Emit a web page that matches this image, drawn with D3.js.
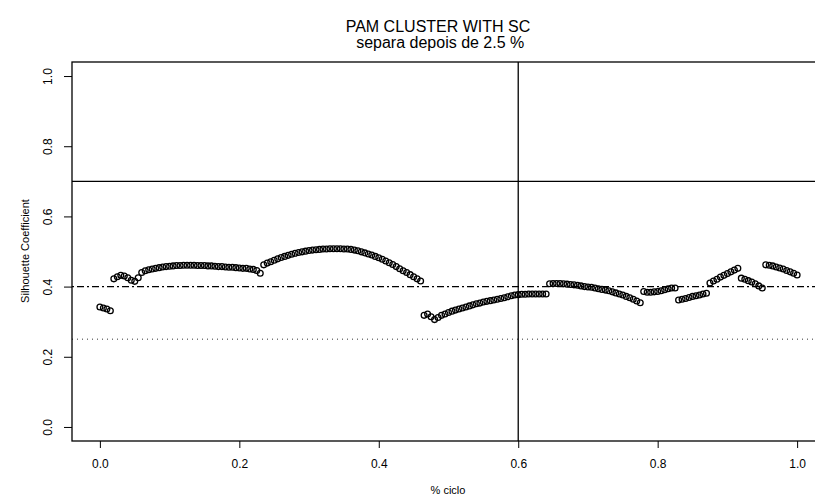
<!DOCTYPE html>
<html>
<head>
<meta charset="utf-8">
<script src="https://cdn.jsdelivr.net/npm/d3@7"></script>
<style>
  body { margin: 0; background: #fff; }
  text { font-family: "Liberation Sans", Arial, sans-serif; }
</style>
</head>
<body>
<svg id="plot"></svg>
<script>
const W = 815, H = 502;

// silhouette coefficient per step of "% ciclo" (step 0.005, from 0 to 1)
const cicloStep = 0.005;
const silhouette = [
  // 0.000 - 0.015
  0.342, 0.339, 0.336, 0.331,
  // 0.020 - 0.055
  0.422, 0.428, 0.432, 0.430, 0.425, 0.418, 0.415, 0.425,
  // 0.060 - 0.230
  0.440, 0.445, 0.448, 0.450, 0.452, 0.454, 0.456, 0.457, 0.458, 0.459,
  0.460, 0.460, 0.461, 0.461, 0.461, 0.461, 0.460, 0.460, 0.460, 0.459,
  0.459, 0.458, 0.457, 0.457, 0.456, 0.455, 0.455, 0.454, 0.453, 0.452,
  0.452, 0.450, 0.449, 0.446, 0.438,
  // 0.235 - 0.460
  0.462, 0.467, 0.471, 0.475, 0.479, 0.483, 0.486, 0.489, 0.492, 0.495,
  0.497, 0.499, 0.501, 0.503, 0.504, 0.505, 0.506, 0.507, 0.507, 0.508,
  0.508, 0.508, 0.508, 0.507, 0.507, 0.506, 0.504, 0.502, 0.499, 0.496,
  0.493, 0.490, 0.486, 0.482, 0.478, 0.473, 0.468, 0.463, 0.457, 0.451,
  0.445, 0.440, 0.434, 0.428, 0.422, 0.416,
  // 0.465 - 0.640
  0.318, 0.322, 0.314, 0.306, 0.312, 0.318, 0.322, 0.326, 0.330, 0.333,
  0.336, 0.339, 0.342, 0.345, 0.348, 0.351, 0.353, 0.356, 0.358, 0.360,
  0.362, 0.364, 0.366, 0.368, 0.371, 0.374, 0.376, 0.377, 0.378, 0.378,
  0.379, 0.379, 0.379, 0.379, 0.379, 0.379,
  // 0.645 - 0.775
  0.408, 0.409, 0.409, 0.409, 0.408, 0.407, 0.406, 0.405, 0.404, 0.402,
  0.400, 0.399, 0.398, 0.396, 0.394, 0.392, 0.390, 0.388, 0.385, 0.382,
  0.379, 0.376, 0.372, 0.368, 0.364, 0.359, 0.354,
  // 0.780 - 0.825
  0.386, 0.384, 0.384, 0.385, 0.386, 0.388, 0.391, 0.394, 0.396, 0.396,
  // 0.830 - 0.870
  0.362, 0.364, 0.366, 0.369, 0.372, 0.374, 0.376, 0.379, 0.381,
  // 0.875 - 0.915
  0.410, 0.416, 0.421, 0.427, 0.432, 0.437, 0.442, 0.447, 0.452,
  // 0.920 - 0.950
  0.424, 0.421, 0.417, 0.413, 0.408, 0.402, 0.396,
  // 0.955 - 1.000
  0.462, 0.461, 0.459, 0.456, 0.453, 0.450, 0.446, 0.442, 0.438, 0.433
];

const xTicks = [0, 0.2, 0.4, 0.6, 0.8, 1.0];
const yTicks = [0, 0.2, 0.4, 0.6, 0.8, 1.0];
const cutX = 0.6;          // vertical line
const hLines = [
  { y: 0.7, dash: null },
  { y: 0.4, dash: "2,3,7,3" },
  { y: 0.25, dash: "1,4", color: "#777" }
];
const titleLines = ["PAM CLUSTER WITH SC", " separa depois de 2.5 %"];

const svg = d3.select("#plot").attr("width", W).attr("height", H);

// R style 4% padding on both axes
const x = d3.scaleLinear().domain([-0.04, 1.04]).range([72, 825]);
const y = d3.scaleLinear().domain([-0.04, 1.04]).range([441, 62]);

// reference lines
svg.selectAll(".hline")
  .data(hLines)
  .enter()
  .append("line")
  .attr("x1", x.range()[0]).attr("x2", x.range()[1])
  .attr("y1", (d) => y(d.y)).attr("y2", (d) => y(d.y))
  .attr("stroke", (d) => d.color || "#000")
  .attr("stroke-width", 1.3)
  .attr("stroke-dasharray", (d) => d.dash);

svg.append("line")
  .attr("x1", x(cutX)).attr("x2", x(cutX))
  .attr("y1", y.range()[0]).attr("y2", y.range()[1])
  .attr("stroke", "#000")
  .attr("stroke-width", 1.3);

// points
svg.selectAll(".pt")
  .data(silhouette)
  .enter()
  .append("circle")
  .attr("class", "pt")
  .attr("cx", (d, i) => x(i * cicloStep))
  .attr("cy", (d) => y(d))
  .attr("r", 2.9)
  .attr("fill", "none")
  .attr("stroke", "#000")
  .attr("stroke-width", 1.3);

// box
svg.append("rect")
  .attr("x", x.range()[0]).attr("y", y.range()[1])
  .attr("width", x.range()[1] - x.range()[0])
  .attr("height", y.range()[0] - y.range()[1])
  .attr("fill", "none")
  .attr("stroke", "#000")
  .attr("stroke-width", 1.3);

// axes
const xAxis = svg.append("g")
  .attr("transform", `translate(0,${y.range()[0]})`)
  .call(d3.axisBottom(x).tickValues(xTicks).tickSize(7).tickPadding(11)
    .tickFormat(d3.format(".1f")));
xAxis.select(".domain").remove();
xAxis.selectAll("text").attr("font-size", 12).attr("fill", "#000")
  .style("font-family", "'Liberation Sans', Arial, sans-serif");

const yAxis = svg.append("g")
  .attr("transform", `translate(${x.range()[0]},0)`)
  .call(d3.axisLeft(y).tickValues(yTicks).tickSize(8)
    .tickFormat(d3.format(".1f")));
yAxis.select(".domain").remove();
yAxis.selectAll("text")
  .attr("x", null).attr("dy", null)
  .attr("transform", "translate(-20,0) rotate(-90)")
  .attr("text-anchor", "middle")
  .attr("font-size", 12).attr("fill", "#000")
  .style("font-family", "'Liberation Sans', Arial, sans-serif");

// labels
svg.append("text")
  .attr("x", 448).attr("y", 494)
  .attr("text-anchor", "middle")
  .attr("font-size", 11)
  .text("% ciclo");

svg.append("text")
  .attr("transform", "translate(29,251) rotate(-90)")
  .attr("text-anchor", "middle")
  .attr("font-size", 11)
  .text("Silhouette Coefficient");

svg.selectAll(".title")
  .data(titleLines)
  .enter()
  .append("text")
  .attr("x", 438)
  .attr("y", (d, i) => 32 + i * 16)
  .attr("text-anchor", "middle")
  .attr("font-size", 16)
  .style("white-space", "pre")
  .text((d) => d);
</script>
</body>
</html>
